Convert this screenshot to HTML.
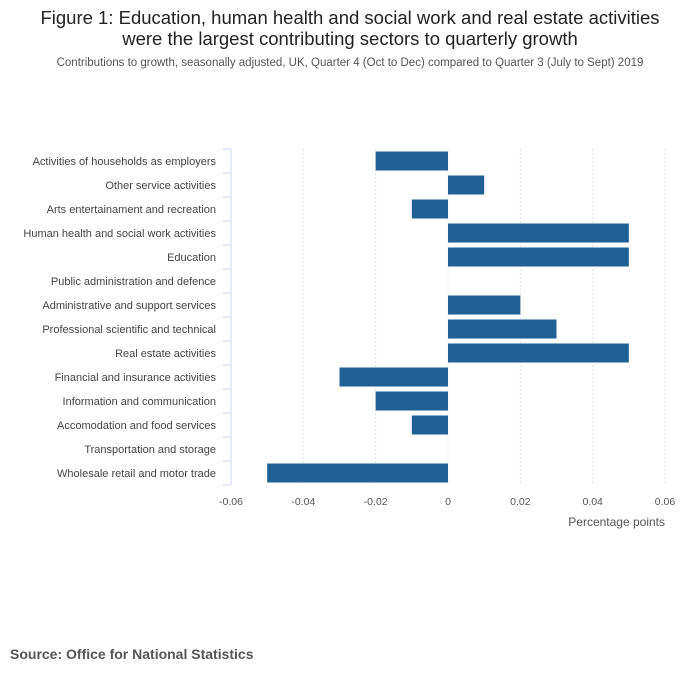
<!DOCTYPE html>
<html><head><meta charset="utf-8"><style>
body{margin:0;background:#fff;font-family:"Liberation Sans",sans-serif;}
#wrap{position:relative;width:700px;height:682px;}
.t{position:absolute;left:0;width:700px;text-align:center;}
</style></head><body>
<div id="wrap">
<div class="t" style="top:7px;font-size:18.5px;line-height:21px;color:#222;">Figure 1: Education, human health and social work and real estate activities<br>were the largest contributing sectors to quarterly growth</div>
<div class="t" style="top:57px;font-size:11.5px;color:#555;">Contributions to growth, seasonally adjusted, UK, Quarter 4 (Oct to Dec) compared to Quarter 3 (July to Sept) 2019</div>
<svg id="svg" width="700" height="682" style="position:absolute;left:0;top:0"></svg>
<div style="position:absolute;left:10px;top:646px;font-size:14px;font-weight:bold;color:#555;">Source: Office for National Statistics</div>
</div>
<script>
const categories=["Activities of households as employers","Other service activities","Arts entertainament and recreation","Human health and social work activities","Education","Public administration and defence","Administrative and support services","Professional scientific and technical","Real estate activities","Financial and insurance activities","Information and communication","Accomodation and food services","Transportation and storage","Wholesale retail and motor trade"];
const values=[-0.02,0.01,-0.01,0.05,0.05,0,0.02,0.03,0.05,-0.03,-0.02,-0.01,0,-0.05];
const ticks=[-0.06,-0.04,-0.02,0,0.02,0.04,0.06];
const tickLabels=["-0.06","-0.04","-0.02","0","0.02","0.04","0.06"];
const NS="http://www.w3.org/2000/svg";
const svg=document.getElementById('svg');
const x0=231,x1=665,yTop=149,band=24;
const xs=v=>x0+(v-ticks[0])/(ticks[ticks.length-1]-ticks[0])*(x1-x0);
const ys=i=>yTop+i*band;
function mk(t,a){const e=document.createElementNS(NS,t);for(const k in a)e.setAttribute(k,a[k]);svg.appendChild(e);return e;}
ticks.forEach((t,i)=>{
 if(i>0){const g=mk('line',{x1:xs(t),x2:xs(t),y1:yTop,y2:yTop+band*categories.length,stroke:'#e0e0e0','stroke-dasharray':'2,2'});
 
 }
 const l=mk('text',{x:xs(t),y:505,'text-anchor':'middle','font-size':'10.5',fill:'#555'});l.textContent=tickLabels[i];
 
 
});
const ax=mk('line',{x1:x0,x2:x0,y1:yTop,y2:yTop+band*categories.length,stroke:'#ccd6eb'});


categories.forEach((c,i)=>{
 const tk=mk('line',{x1:x0-8,x2:x0,y1:ys(i),y2:ys(i),stroke:'#ccd6eb'});
 
 
 const l=mk('text',{x:216,y:ys(i)+band/2+4,'text-anchor':'end','font-size':'11',fill:'#444'});l.textContent=c;
 
 
 const v=values[i];
 if(v!==0){const b=mk('rect',{x:Math.min(xs(0),xs(v)),y:ys(i)+2.5,width:Math.abs(xs(v)-xs(0)),height:19,fill:'#206095'});
 
 }
});
const bt=mk('line',{x1:x0-8,x2:x0,y1:ys(categories.length),y2:ys(categories.length),stroke:'#ccd6eb'});


const xt=mk('text',{x:665,y:526,'text-anchor':'end','font-size':'12',fill:'#555'});xt.textContent='Percentage points';


</script>
</body></html>
